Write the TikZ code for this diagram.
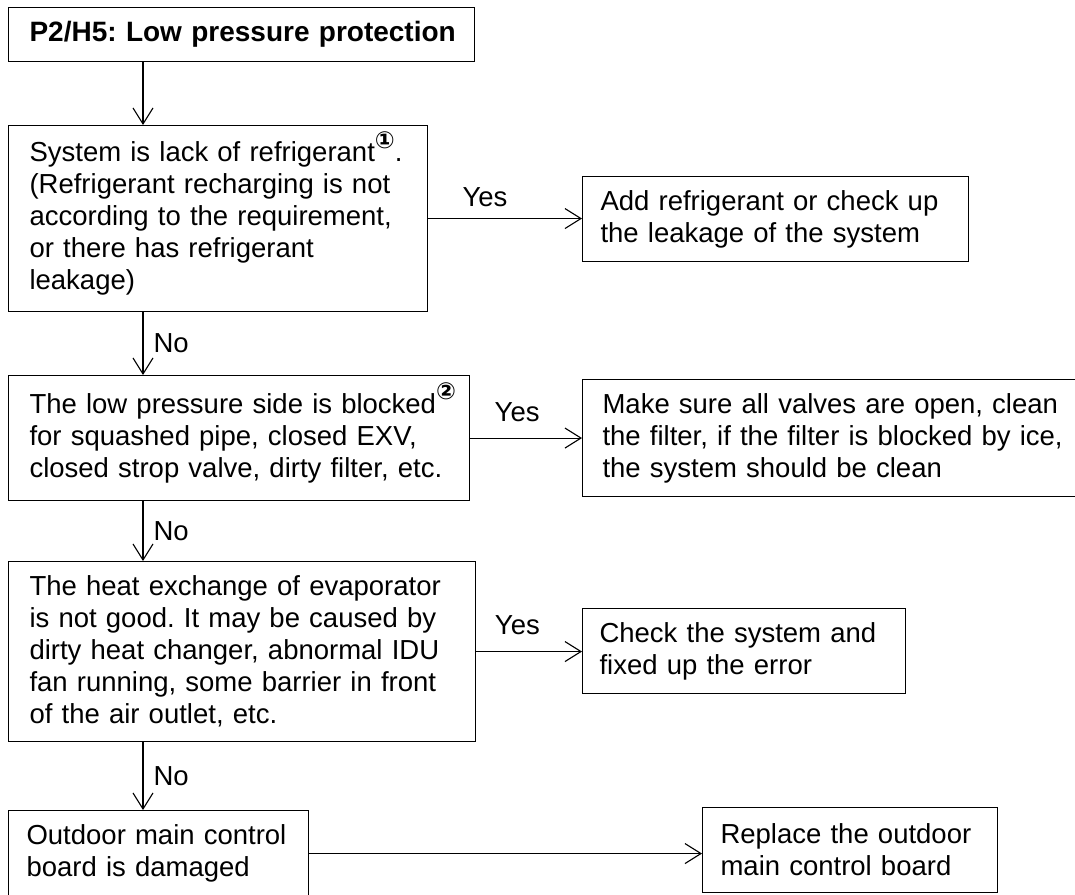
\documentclass[tikz,border=0pt]{standalone}
\usepackage{fontspec}
\setmainfont{Liberation Sans}
\newfontfamily\symfont{DejaVu Sans}
\usetikzlibrary{arrows.meta,calc}
\newcommand{\circnum}[1]{\raisebox{13.5pt}[0pt][0pt]{\fontsize{23.5}{23.5}\selectfont\symfont\bfseries #1}}
\newcommand{\oneline}[1]{\mbox{#1}}
\frenchspacing
\begin{document}
\begin{tikzpicture}[x=1pt,y=-1pt,
  every node/.style={font=\fontsize{27.5}{32}\selectfont},
  box/.style={draw, line width=1.1pt, anchor=north west, align=left, inner ysep=0pt},
  arr/.style={line width=1.1pt, -{Straight Barb[length=16pt,width=20pt,line width=1.1pt]}},
  yeslbl/.style={inner sep=0pt, anchor=base},
  nolbl/.style={inner sep=0pt, anchor=west, pos=0.5, xshift=10pt}]
\useasboundingbox (0,0) rectangle (1075,894);

\node[box, inner xsep=21pt, minimum width=466pt, minimum height=54pt, text width=424pt, font=\fontsize{28}{32}\selectfont\bfseries] (title) at (8,7) {\oneline{P2/H5: Low pressure protection}};

\node[box, inner xsep=21pt, minimum width=419pt, minimum height=186pt, text width=377pt] (box1) at (8,125)
 {\oneline{System is lack of refrigerant\circnum{①}.}\\\oneline{(Refrigerant recharging is not}\\\oneline{according to the requirement,}\\\oneline{or there has refrigerant}\\\oneline{leakage)}};

\node[box, inner xsep=18pt, minimum width=386pt, minimum height=85pt, text width=350pt] (box2) at (582,176)
 {\oneline{Add refrigerant or check up}\\\oneline{the leakage of the system}};

\node[box, inner xsep=21pt, minimum width=461pt, minimum height=125pt, text width=419pt] (box3) at (8,375)
 {\oneline{The low pressure side is blocked\circnum{②}}\\\oneline{for squashed pipe, closed EXV,}\\\oneline{closed strop valve, dirty filter, etc.}};

\node[box, inner xsep=20pt, minimum width=498pt, minimum height=117pt, text width=458pt] (box4) at (582,379)
 {\oneline{Make sure all valves are open, clean}\\\oneline{the filter, if the filter is blocked by ice,}\\\oneline{the system should be clean}};

\node[box, inner xsep=21pt, minimum width=467pt, minimum height=180pt, text width=425pt] (box5) at (8,561)
 {\oneline{The heat exchange of evaporator}\\\oneline{is not good. It may be caused by}\\\oneline{dirty heat changer, abnormal IDU}\\\oneline{fan running, some barrier in front}\\\oneline{of the air outlet, etc.}};

\node[box, inner xsep=17pt, minimum width=323pt, minimum height=85pt, text width=289pt] (box6) at (582,608)
 {\oneline{Check the system and}\\\oneline{fixed up the error}};

\node[box, inner xsep=18pt, minimum width=300pt, minimum height=86pt, text width=264pt] (box7) at (8,810)
 {\oneline{Outdoor main control}\\\oneline{board is damaged}};

\node[box, inner xsep=18pt, minimum width=295pt, minimum height=85pt, text width=259pt] (box8) at (702,807)
 {\oneline{Replace the outdoor}\\\oneline{main control board}};

% vertical connectors
\draw[arr] ([xshift=135pt]title.south west) -- ([xshift=135pt]box1.north west);
\draw[arr] ([xshift=135pt]box1.south west) -- node[nolbl]{No} ([xshift=135pt]box3.north west);
\draw[arr] ([xshift=135pt]box3.south west) -- node[nolbl]{No} ([xshift=135pt]box5.north west);
\draw[arr] ([xshift=135pt]box5.south west) -- node[nolbl]{No} ([xshift=135pt]box7.north west);

% horizontal connectors
\draw[arr] (box1.east) -- node[yeslbl, pos=0.37, yshift=12pt]{Yes} (box1.east -| box2.west);
\draw[arr] (box3.east) -- node[yeslbl, pos=0.42, yshift=17pt]{Yes} (box3.east -| box4.west);
\draw[arr] (box5.east) -- node[yeslbl, pos=0.39, yshift=17pt]{Yes} (box5.east -| box6.west);
\draw[arr] (box7.east) -- (box7.east -| box8.west);
\end{tikzpicture}
\end{document}
